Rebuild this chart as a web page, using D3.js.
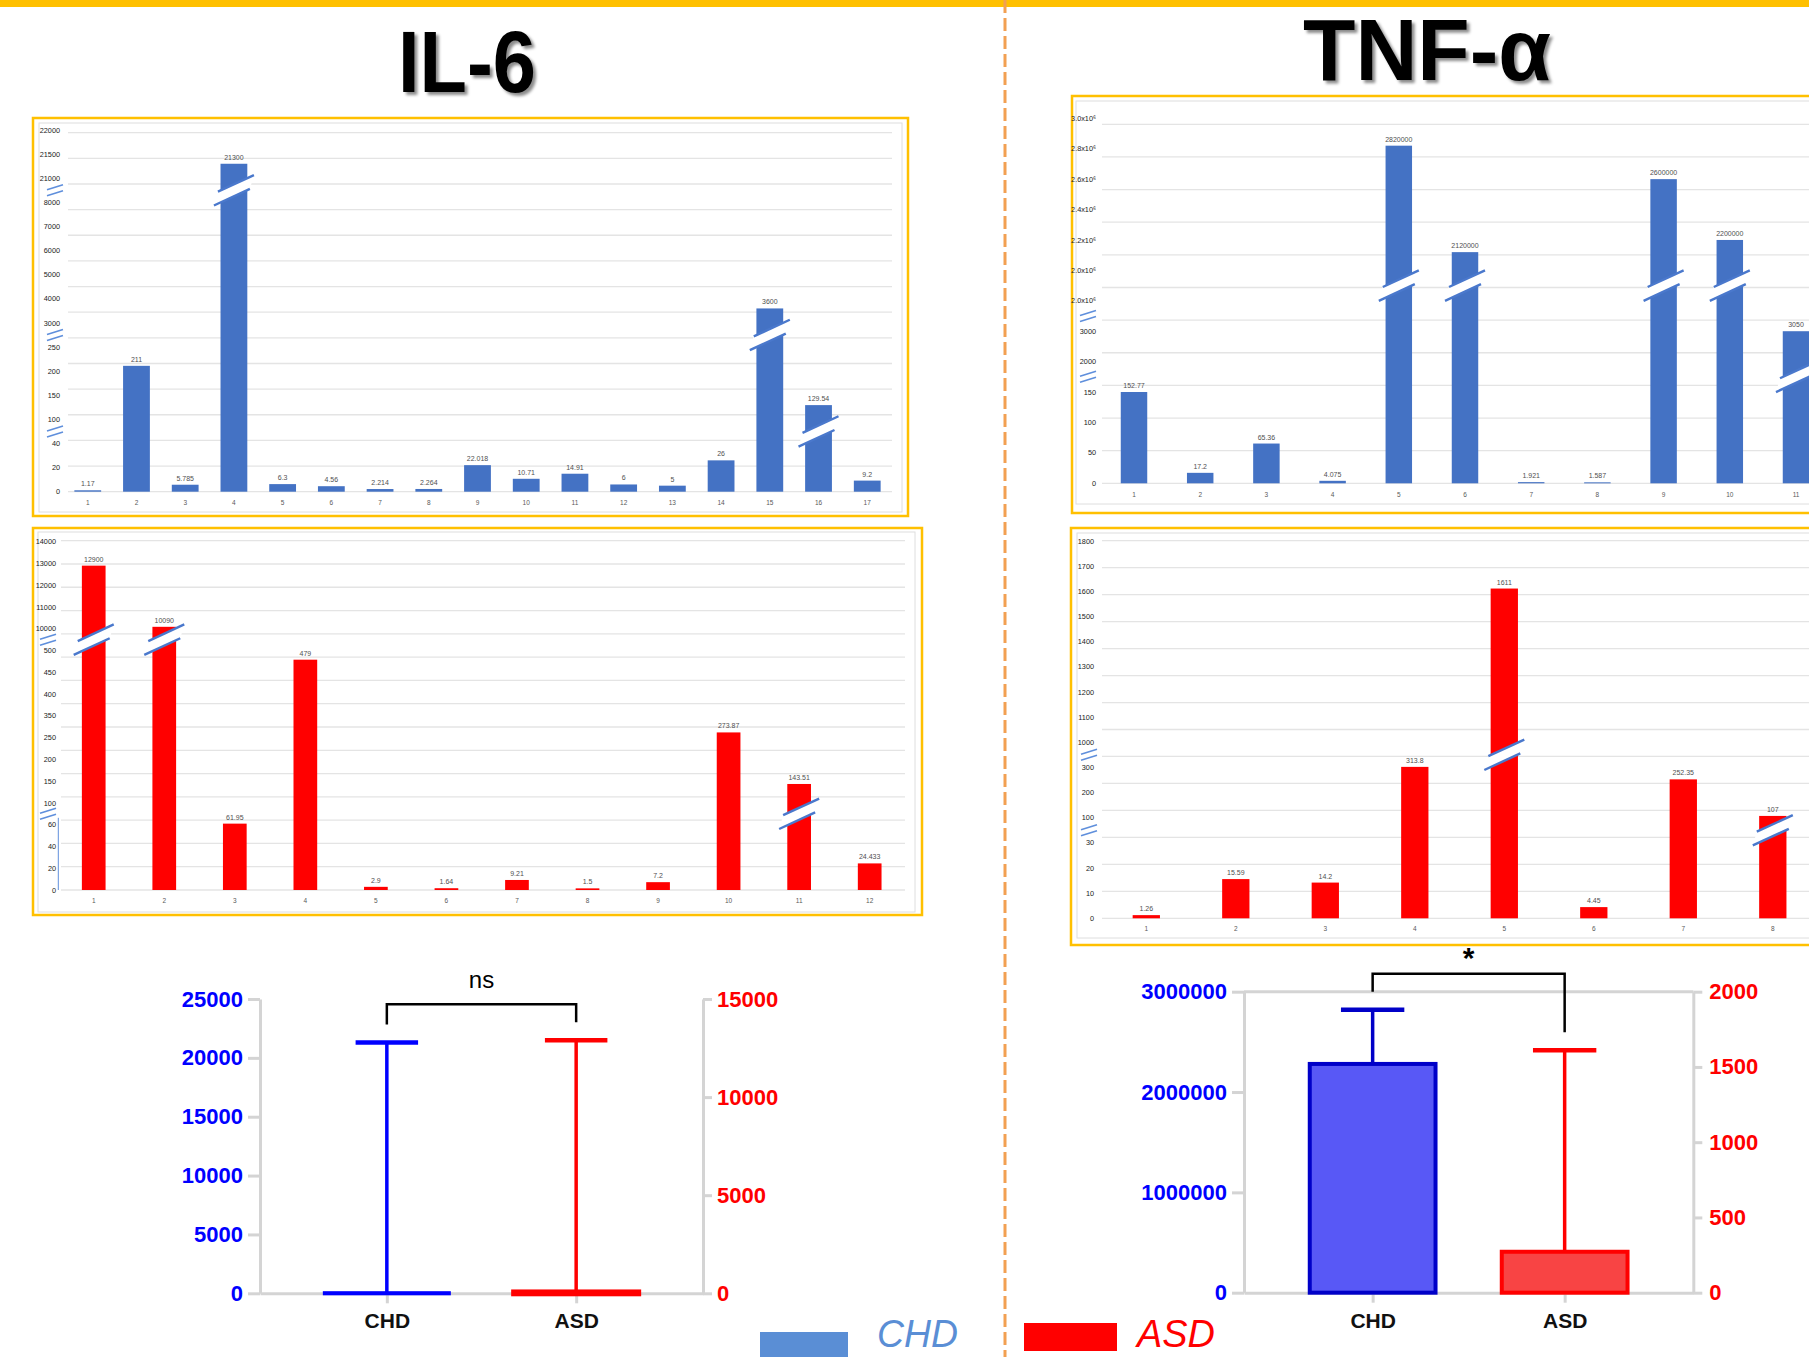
<!DOCTYPE html>
<html>
<head>
<meta charset="utf-8">
<script src="https://cdn.jsdelivr.net/npm/d3@7"></script>
<style>
  body { margin: 0; background: #fff; }
  svg { display: block; font-family: "Liberation Sans", Arial, sans-serif; }
</style>
</head>
<body>
<div id="figure"></div>
<script>
// ---------- data ----------

// IL-6, CHD patients (blue bars, top left)
var il6ChdCats = [1, 2, 3, 4, 5, 6, 7, 8, 9, 10, 11, 12, 13, 14, 15, 16, 17];
var il6ChdValues = [1.17, 211, 5.785, 21300, 6.3, 4.56, 2.214, 2.264, 22.018, 10.71, 14.91, 6, 5, 26, 3600, 129.54, 9.2];
var il6ChdTicks = ["22000", "21500", "21000", "8000", "7000", "6000", "5000", "4000", "3000", "250", "200", "150", "100", "40", "20", "0"];
var il6ChdTickValues = [22000, 21500, 21000, 8000, 7000, 6000, 5000, 4000, 3000, 250, 200, 150, 100, 40, 20, 0];
var il6ChdAxisBreaks = [2, 8, 12];                 // axis cut after these tick rows
var il6ChdBarBreaks = [[4, 2], [15, 8], [16, 12]]; // [category, tick row]

// IL-6, ASD patients (red bars, middle left)
var il6AsdCats = [1, 2, 3, 4, 5, 6, 7, 8, 9, 10, 11, 12];
var il6AsdValues = [12900, 10090, 61.95, 479, 2.9, 1.64, 9.21, 1.5, 7.2, 273.87, 143.51, 24.433];
var il6AsdTicks = ["14000", "13000", "12000", "11000", "10000", "500", "450", "400", "350", "250", "200", "150", "100", "60", "40", "20", "0"];
var il6AsdTickValues = [14000, 13000, 12000, 11000, 10000, 500, 450, 400, 350, 250, 200, 150, 100, 60, 40, 20, 0];
var il6AsdAxisBreaks = [4, 12];
var il6AsdBarBreaks = [[1, 4], [2, 4], [11, 12]];

// TNF-alpha, CHD patients (blue bars, top right)
var tnfChdCats = [1, 2, 3, 4, 5, 6, 7, 8, 9, 10, 11];
var tnfChdValues = [152.77, 17.2, 65.36, 4.075, 2820000, 2120000, 1.921, 1.587, 2600000, 2200000, 3050];
var tnfChdTicks = ["3.0x10⁶", "2.8x10⁶", "2.6x10⁶", "2.4x10⁶", "2.2x10⁶", "2.0x10⁶", "2.0x10⁶", "3000", "2000", "150", "100", "50", "0"];
var tnfChdTickValues = [3000000, 2800000, 2600000, 2400000, 2200000, 2000000, 2000000, 3000, 2000, 150, 100, 50, 0];
var tnfChdAxisBreaks = [6, 8];
var tnfChdBarBreaks = [[5, 5], [6, 5], [9, 5], [10, 5], [11, 8]];

// TNF-alpha, ASD patients (red bars, middle right)
var tnfAsdCats = [1, 2, 3, 4, 5, 6, 7, 8];
var tnfAsdValues = [1.26, 15.59, 14.2, 313.8, 1611, 4.45, 252.35, 107];
var tnfAsdTicks = ["1800", "1700", "1600", "1500", "1400", "1300", "1200", "1100", "1000", "300", "200", "100", "30", "20", "10", "0"];
var tnfAsdTickValues = [1800, 1700, 1600, 1500, 1400, 1300, 1200, 1100, 1000, 300, 200, 100, 30, 20, 10, 0];
var tnfAsdAxisBreaks = [8, 11];
var tnfAsdBarBreaks = [[5, 8], [8, 11]];

// group comparison charts (bottom)
var groups = ["CHD", "ASD"];
var il6LeftTicks = [0, 5000, 10000, 15000, 20000, 25000];
var il6RightTicks = [0, 5000, 10000, 15000];
var tnfLeftTicks = [0, 1000000, 2000000, 3000000];
var tnfRightTicks = [0, 500, 1000, 1500, 2000];
var tnfBarHeights = [2280000, 272];   // bar tops

// ---------- drawing ----------
var W = 1809, H = 1357;
var blue = "#4472C4", red = "#FF0000", gold = "#FFC000";

var svg = d3.select("#figure").append("svg")
    .attr("width", W)
    .attr("height", H);

svg.append("rect").attr("width", W).attr("height", H).attr("fill", "#fff");

var shadow = svg.append("defs").append("filter")
    .attr("id", "titleShadow")
    .attr("x", "-10%").attr("y", "-10%").attr("width", "130%").attr("height", "130%");
shadow.append("feDropShadow")
    .attr("dx", 3).attr("dy", 3).attr("stdDeviation", 1.6)
    .attr("flood-color", "#000").attr("flood-opacity", 0.45);

//yellow band on top
svg.append("rect").attr("x", 0).attr("y", 0).attr("width", W).attr("height", 7).attr("fill", gold);

//titles
function title(txt, cx, base, len) {
    svg.append("text")
        .attr("x", cx).attr("y", base)
        .attr("text-anchor", "middle")
        .attr("font-size", 88)
        .attr("font-weight", "bold")
        .attr("textLength", len)
        .attr("lengthAdjust", "spacingAndGlyphs")
        .attr("filter", "url(#titleShadow)")
        .text(txt);
}
title("IL-6", 467, 92, 138);
title("TNF-α", 1427, 80, 248);

/**
 * Draws one of the four Excel-like bar panels with a broken y axis.
 * Tick rows are spread evenly, values are placed by a piecewise scale over the tick values.
 */
function drawBarPanel(cfg) {
    var g = svg.append("g");
    var n = cfg.ticks.length;

    g.append("rect")
        .attr("x", cfg.box[0]).attr("y", cfg.box[1])
        .attr("width", cfg.box[2]).attr("height", cfg.box[3])
        .attr("fill", "none").attr("stroke", gold).attr("stroke-width", 2.5);
    g.append("rect")
        .attr("x", cfg.inner[0]).attr("y", cfg.inner[1])
        .attr("width", cfg.inner[2]).attr("height", cfg.inner[3])
        .attr("fill", "none").attr("stroke", "#dedede").attr("stroke-width", 1);

    //gridlines
    var gy = d3.scaleLinear().domain([0, cfg.gridCount - 1]).range(cfg.gridY);
    g.selectAll(".grid").data(d3.range(cfg.gridCount)).enter().append("line")
        .attr("x1", cfg.gridX[0]).attr("x2", cfg.gridX[1])
        .attr("y1", function(d) { return gy(d); })
        .attr("y2", function(d) { return gy(d); })
        .attr("stroke", "#e4e4e4").attr("stroke-width", 1.3);

    var row = d3.scaleLinear().domain([0, n - 1]).range(cfg.tickY);
    var toRow = d3.scaleLinear().domain(cfg.tickValues).range(d3.range(n));
    var y = function(v) { return row(toRow(v)); };
    var zero = y(0);

    var x = d3.scaleBand().domain(cfg.cats).range(cfg.catRange)
        .paddingInner(cfg.padding).paddingOuter(cfg.padding / 2);

    //tick labels
    g.selectAll(".ytick").data(cfg.ticks).enter().append("text")
        .attr("x", cfg.tickX)
        .attr("y", function(d, i) { return row(i) + 2.6; })
        .attr("text-anchor", "end")
        .attr("font-size", 7.3)
        .attr("fill", "#222")
        .text(function(d) { return d; });

    //bars
    g.selectAll(".bar").data(cfg.values).enter().append("rect")
        .attr("x", function(d, i) { return x(cfg.cats[i]); })
        .attr("y", function(d) { return y(d); })
        .attr("width", x.bandwidth())
        .attr("height", function(d) { return Math.max(zero - y(d), 1); })
        .attr("fill", cfg.color);

    g.selectAll(".val").data(cfg.values).enter().append("text")
        .attr("x", function(d, i) { return x(cfg.cats[i]) + x.bandwidth() / 2; })
        .attr("y", function(d) { return y(d) - 4; })
        .attr("text-anchor", "middle")
        .attr("font-size", 7)
        .attr("fill", "#505050")
        .text(function(d) { return d; });

    g.selectAll(".cat").data(cfg.cats).enter().append("text")
        .attr("x", function(d) { return x(d) + x.bandwidth() / 2; })
        .attr("y", cfg.catLabelY)
        .attr("text-anchor", "middle")
        .attr("font-size", 6.5)
        .attr("fill", "#595959")
        .text(function(d) { return d; });

    //small "//" marks where the axis is cut
    cfg.axisBreaks.forEach(function(r) {
        var yy = row(r + 0.5);
        [-3, 3].forEach(function(k) {
            g.append("line")
                .attr("x1", cfg.markX - 8).attr("y1", yy + 2.5 + k)
                .attr("x2", cfg.markX + 8).attr("y2", yy - 2.5 + k)
                .attr("stroke", "#5f8fdc").attr("stroke-width", 1.6);
        });
    });

    if (cfg.axisStub) {
        g.append("line")
            .attr("x1", cfg.axisStub).attr("x2", cfg.axisStub)
            .attr("y1", row(cfg.axisBreaks[cfg.axisBreaks.length - 1] + 0.5) + 4).attr("y2", zero)
            .attr("stroke", "#5f8fdc").attr("stroke-width", 1);
    }

    //slanted cut drawn across the tall bars
    cfg.barBreaks.forEach(function(b) {
        var cx = x(b[0]) + x.bandwidth() / 2;
        var cy = row(b[1] + 0.5);
        var u1 = [cx - 16, cy + 1.4], u2 = [cx + 20, cy - 15.2];
        var l1 = [cx - 20, cy + 15.2], l2 = [cx + 16, cy - 1.4];
        g.append("polygon")
            .attr("points", [u1, u2, l2, l1].map(function(p) { return p.join(","); }).join(" "))
            .attr("fill", "#fff");
        [[u1, u2], [l1, l2]].forEach(function(s) {
            g.append("line")
                .attr("x1", s[0][0]).attr("y1", s[0][1])
                .attr("x2", s[1][0]).attr("y2", s[1][1])
                .attr("stroke", "#4a78cc").attr("stroke-width", 2.4);
        });
    });
}

drawBarPanel({
    cats: il6ChdCats, values: il6ChdValues, ticks: il6ChdTicks, tickValues: il6ChdTickValues,
    axisBreaks: il6ChdAxisBreaks, barBreaks: il6ChdBarBreaks, color: blue,
    box: [33, 118, 875, 398], inner: [39, 123, 863, 389],
    gridX: [68, 892], gridY: [132.7, 491.7], gridCount: 15,
    tickY: [130, 491.7], tickX: 60, markX: 55,
    catRange: [63.4, 891.6], padding: 0.45, catLabelY: 504.5
});

drawBarPanel({
    cats: il6AsdCats, values: il6AsdValues, ticks: il6AsdTicks, tickValues: il6AsdTickValues,
    axisBreaks: il6AsdAxisBreaks, barBreaks: il6AsdBarBreaks, color: red,
    box: [33, 528, 889, 387], inner: [38, 532, 877, 380],
    gridX: [61, 905], gridY: [540.7, 890], gridCount: 16,
    tickY: [541.7, 890], tickX: 56, markX: 48, axisStub: 58.3,
    catRange: [58.45, 904.95], padding: 0.664, catLabelY: 903
});

drawBarPanel({
    cats: tnfChdCats, values: tnfChdValues, ticks: tnfChdTicks, tickValues: tnfChdTickValues,
    axisBreaks: tnfChdAxisBreaks, barBreaks: tnfChdBarBreaks, color: blue,
    box: [1072, 96, 780, 417], inner: [1076, 101, 770, 403],
    gridX: [1102, 1830], gridY: [124.3, 483.3], gridCount: 12,
    tickY: [118.3, 483.3], tickX: 1096, markX: 1088,
    catRange: [1100.9, 1829.1], padding: 0.6, catLabelY: 496.5
});

drawBarPanel({
    cats: tnfAsdCats, values: tnfAsdValues, ticks: tnfAsdTicks, tickValues: tnfAsdTickValues,
    axisBreaks: tnfAsdAxisBreaks, barBreaks: tnfAsdBarBreaks, color: red,
    box: [1071, 528, 780, 417], inner: [1077, 533, 770, 405],
    gridX: [1102, 1830], gridY: [540.7, 918.3], gridCount: 15,
    tickY: [541, 918.3], tickX: 1094, markX: 1089,
    catRange: [1101.55, 1817.55], padding: 0.695, catLabelY: 930.5
});

/**
 * Bottom comparison chart: CHD on the left axis, ASD on the right axis,
 * bar plus an upper error bar and a significance bracket.
 */
function drawSummary(cfg) {
    var g = svg.append("g");
    var yL = d3.scaleLinear().domain([0, cfg.leftMax]).range([cfg.baseY, cfg.topY]);
    var yR = d3.scaleLinear().domain([0, cfg.rightMax]).range([cfg.baseY, cfg.topY]);
    var scales = [yL, yR];
    var x = d3.scalePoint().domain(groups).range([cfg.left, cfg.right]).padding(0.67);

    if (cfg.topBorder) {
        g.append("line")
            .attr("x1", cfg.left).attr("x2", cfg.right)
            .attr("y1", cfg.topY).attr("y2", cfg.topY)
            .attr("stroke", "#d4d4d4").attr("stroke-width", 3);
    }

    var axL = g.append("g").attr("transform", "translate(" + cfg.left + ",0)")
        .call(d3.axisLeft(yL).tickValues(cfg.leftTicks).tickSize(12).tickSizeOuter(0)
            .tickPadding(5).tickFormat(d3.format("d")));
    var axR = g.append("g").attr("transform", "translate(" + cfg.right + ",0)")
        .call(d3.axisRight(yR).tickValues(cfg.rightTicks).tickSize(9).tickSizeOuter(0)
            .tickPadding(cfg.rightPad).tickFormat(d3.format("d")));
    var axB = g.append("g").attr("transform", "translate(0," + cfg.baseY + ")")
        .call(d3.axisBottom(x).tickSize(10).tickSizeOuter(0).tickPadding(10));

    [axL, axR, axB].forEach(function(ax) {
        ax.attr("font-size", 22).attr("font-weight", "bold")
          .attr("font-family", "'Liberation Sans', Arial, sans-serif");
        ax.selectAll(".domain, .tick line").attr("stroke", "#d4d4d4").attr("stroke-width", 3);
    });
    axL.selectAll("text").attr("fill", "#0000FF");
    axR.selectAll("text").attr("fill", red);
    axB.selectAll("text").attr("fill", "#111").attr("font-size", 21);

    var bw = x.step() * 0.655, cw = x.step() * 0.33;

    g.selectAll(".bar").data(groups).enter().append("rect")
        .attr("x", function(d) { return x(d) - bw / 2; })
        .attr("y", function(d, i) { return scales[i](cfg.centers[i]); })
        .attr("width", bw)
        .attr("height", function(d, i) { return cfg.baseY - scales[i](cfg.centers[i]); })
        .attr("fill", function(d, i) { return cfg.fills[i]; })
        .attr("stroke", function(d, i) { return cfg.strokes[i]; })
        .attr("stroke-width", function(d, i) { return cfg.barStroke[i]; });

    //error bars up to the highest value
    g.selectAll(".whisker").data(groups).enter().append("line")
        .attr("x1", function(d) { return x(d); })
        .attr("x2", function(d) { return x(d); })
        .attr("y1", function(d, i) { return scales[i](cfg.centers[i]); })
        .attr("y2", function(d, i) { return scales[i](cfg.uppers[i]); })
        .attr("stroke", function(d, i) { return cfg.strokes[i]; })
        .attr("stroke-width", 3.5);
    g.selectAll(".cap").data(groups).enter().append("line")
        .attr("x1", function(d) { return x(d) - cw / 2; })
        .attr("x2", function(d) { return x(d) + cw / 2; })
        .attr("y1", function(d, i) { return scales[i](cfg.uppers[i]); })
        .attr("y2", function(d, i) { return scales[i](cfg.uppers[i]); })
        .attr("stroke", function(d, i) { return cfg.strokes[i]; })
        .attr("stroke-width", 4.5);

    //significance bracket
    var capY = groups.map(function(d, i) { return scales[i](cfg.uppers[i]); });
    var by = d3.min(capY) - 36;
    g.append("path")
        .attr("d", "M" + x(groups[0]) + "," + (capY[0] - 18) + "V" + by +
                   "H" + x(groups[1]) + "V" + (capY[1] - 18))
        .attr("fill", "none").attr("stroke", "#000").attr("stroke-width", 2.5);
    g.append("text")
        .attr("x", (x(groups[0]) + x(groups[1])) / 2)
        .attr("y", by + cfg.sigDy)
        .attr("text-anchor", "middle")
        .attr("font-size", cfg.sigSize)
        .attr("font-weight", cfg.sigWeight)
        .text(cfg.sig);
}

drawSummary({
    left: 260, right: 703, topY: 999, baseY: 1293.3,
    leftMax: 25000, rightMax: 15000, leftTicks: il6LeftTicks, rightTicks: il6RightTicks, rightPad: 5,
    centers: [d3.median(il6ChdValues), d3.median(il6AsdValues)],
    uppers: [d3.max(il6ChdValues), d3.max(il6AsdValues)],
    fills: ["#0000FF", red], strokes: ["#0000FF", red], barStroke: [4, 6],
    sig: "ns", sigDy: -16, sigSize: 24, sigWeight: "normal"
});

drawSummary({
    left: 1244, right: 1693.3, topY: 991.7, baseY: 1292.7, topBorder: true,
    leftMax: 3000000, rightMax: 2000, leftTicks: tnfLeftTicks, rightTicks: tnfRightTicks, rightPad: 7,
    centers: tnfBarHeights,
    uppers: [d3.max(tnfChdValues), d3.max(tnfAsdValues)],
    fills: ["#5858F6", "#F84444"], strokes: ["#0000C8", red], barStroke: [4, 4],
    sig: "*", sigDy: -6, sigSize: 30, sigWeight: "bold"
});

//legend along the bottom edge
svg.append("rect").attr("x", 760).attr("y", 1332).attr("width", 88).attr("height", 30).attr("fill", "#5A8ED5");
svg.append("text").attr("x", 877).attr("y", 1347).attr("font-size", 38).attr("font-style", "italic")
    .attr("textLength", 81).attr("lengthAdjust", "spacingAndGlyphs").attr("fill", "#5A8ED5").text("CHD");
svg.append("rect").attr("x", 1024).attr("y", 1323).attr("width", 93).attr("height", 28).attr("fill", red);
svg.append("text").attr("x", 1137).attr("y", 1347).attr("font-size", 38).attr("font-style", "italic")
    .attr("textLength", 78).attr("lengthAdjust", "spacingAndGlyphs").attr("fill", red).text("ASD");

//dashed divider between IL-6 and TNF-alpha
svg.append("line")
    .attr("x1", 1005).attr("x2", 1005).attr("y1", 0).attr("y2", H)
    .attr("stroke", "#F2A052").attr("stroke-width", 3).attr("stroke-dasharray", "13,5");
</script>
</body>
</html>
